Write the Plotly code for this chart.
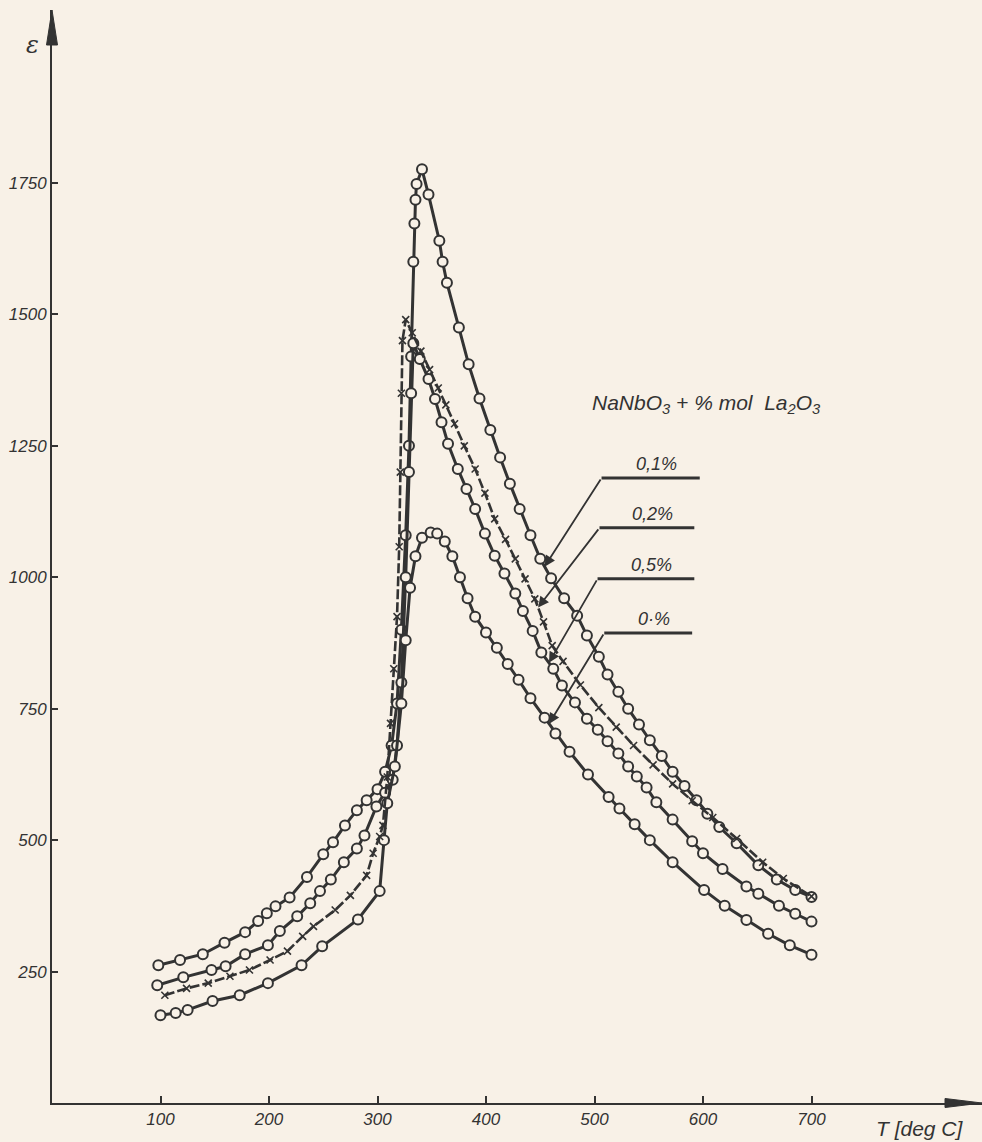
import numpy as np
import plotly.graph_objects as go

# ---------------- data ----------------
# NaNbO3 + 0.1 % mol La2O3  (open circles)
T_01 = [98, 118, 139, 159, 178, 190, 198, 206, 219, 235,
        250, 259, 270, 281, 290, 300, 307, 313, 318, 322,
        326, 329, 331, 333, 334, 335, 336, 341, 347, 357,
        360, 364, 375, 384, 394, 404, 413, 422, 431, 441,
        450, 460, 472, 484, 493, 504, 512, 522, 531, 541,
        551, 562, 572, 583, 594, 604, 615, 631, 651, 668,
        685, 700]
eps_01 = [262, 272, 283, 305, 325, 346, 361, 374, 391, 430,
          473, 496, 528, 557, 576, 597, 630, 680, 760, 900,
          1080, 1250, 1420, 1600, 1673, 1718, 1748, 1776, 1728, 1640,
          1600, 1560, 1475, 1405, 1340, 1280, 1228, 1178, 1130, 1080,
          1035, 998, 960, 927, 889, 849, 815, 782, 750, 720,
          690, 660, 630, 603, 576, 550, 525, 494, 452, 425,
          405, 392]

# 0.2 % (crosses, dashed)
T_02 = [104, 124, 144, 164, 182, 201, 217, 231, 241, 261,
        275, 290, 296, 302, 305, 309, 312, 315, 318, 320,
        321, 322, 323, 326, 332, 340, 348, 356, 363, 371,
        380, 390, 399, 408, 418, 427, 436, 445, 453, 461,
        471, 487, 504, 520, 536, 554, 572, 590, 609, 631,
        655, 674, 700]
eps_02 = [205, 218, 228, 241, 253, 272, 289, 317, 336, 367,
          395, 433, 475, 507, 528, 620, 722, 826, 925, 1058,
          1200, 1350, 1450, 1490, 1465, 1430, 1395, 1360, 1328, 1292,
          1250, 1206, 1160, 1111, 1072, 1035, 997, 959, 915, 870,
          840, 795, 752, 715, 680, 643, 607, 575, 543, 503,
          458, 427, 393]

# 0.5 % (open circles)
T_05 = [97, 121, 147, 160, 178, 199, 210, 226, 238, 247,
        257, 269, 281, 288, 299, 307, 314, 318, 322, 326,
        329, 331, 333, 339, 347, 353, 359, 365, 374, 382,
        390, 399, 408, 417, 427, 434, 443, 451, 462, 470,
        482, 493, 503, 512, 522, 531, 539, 548, 557, 572,
        590, 600, 618, 640, 651, 670, 685, 700]
eps_05 = [224, 239, 253, 260, 283, 300, 327, 355, 380, 403,
          425, 458, 484, 509, 564, 590, 615, 680, 800, 1000,
          1200, 1350, 1445, 1415, 1377, 1339, 1295, 1254, 1206, 1168,
          1130, 1083, 1041, 1007, 969, 936, 898, 857, 826, 794,
          762, 731, 710, 688, 665, 640, 621, 600, 572, 539,
          498, 475, 445, 412, 398, 375, 360, 345]

# 0 % (open circles)
T_00 = [100, 114, 125, 148, 173, 199, 230, 249, 282, 302,
        306, 309, 316, 322, 326, 330, 335, 341, 349, 355,
        362, 369, 376, 383, 390, 400, 410, 420, 430, 441,
        454, 464, 477, 494, 513, 523, 537, 551, 572, 601,
        620, 640, 660, 680, 700]
eps_00 = [167, 171, 177, 194, 205, 228, 262, 298, 349, 403,
          500, 570, 640, 760, 880, 980, 1040, 1075, 1085, 1083,
          1068, 1040, 1000, 960, 925, 895, 866, 835, 805, 770,
          733, 703, 668, 625, 582, 560, 530, 500, 458, 405,
          375, 348, 322, 300, 282]

x_ticks = [100, 200, 300, 400, 500, 600, 700]
y_ticks = [250, 500, 750, 1000, 1250, 1500, 1750]

legend_title = "NaNbO<sub>3</sub> + % mol  La<sub>2</sub>O<sub>3</sub>"
labels = ["0,1%", "0,2%", "0,5%", "0·%"]

# ---------------- styling ----------------
BG = "#f8f1e7"
INK = "#333333"
FONT = "Liberation Sans Narrow, Liberation Sans, DejaVu Sans, sans-serif"

W, H = 982, 1142
ML, MR, MT, MB = 52, 0, 10, 39
PX_PER_DEG = 1.085
PX_PER_EPS = 0.526
pw = W - ML - MR
ph = H - MT - MB

fig = go.Figure()


def circles(T, E):
    fig.add_trace(go.Scatter(
        x=T, y=E, mode="lines+markers", hoverinfo="skip",
        line=dict(color=INK, width=3),
        marker=dict(symbol="circle", size=10, color=BG,
                    line=dict(color=INK, width=2))))


circles(T_01, eps_01)
circles(T_05, eps_05)
circles(T_00, eps_00)
fig.add_trace(go.Scatter(
    x=T_02, y=eps_02, mode="lines+markers", hoverinfo="skip",
    line=dict(color=INK, width=2.6, dash="10px,3px"),
    marker=dict(symbol="x-thin", size=7, color=INK,
                line=dict(color=INK, width=1.6))))

# ---------------- leaders ----------------
def tip(T, E, t):
    T = np.asarray(T, float)
    E = np.asarray(E, float)
    i = int(np.argmax(E))
    return float(np.interp(t, T[i:], E[i:]))

# elbow (T, eps), end-of-bar T, tip T on its curve
leaders = [
    (T_01, eps_01, 506.5, 1189, 597, 454),
    (T_02, eps_02, 504.6, 1094, 592, 448),
    (T_05, eps_05, 502.8, 997, 592, 458),
    (T_00, eps_00, 509.0, 894, 590, 458),
]
shapes = []
annotations = []
for (T, E, ex, ey, xend, ttip), lab in zip(leaders, labels):
    shapes.append(dict(type="line", xref="x", yref="y", x0=ex, y0=ey,
                       x1=xend, y1=ey, line=dict(color=INK, width=3)))
    annotations.append(dict(x=ttip, y=tip(T, E, ttip), xref="x", yref="y",
                            ax=ex, ay=ey, axref="x", ayref="y", text="",
                            showarrow=True, arrowhead=2, arrowsize=1.2,
                            arrowwidth=1.8, arrowcolor=INK, standoff=0))
    annotations.append(dict(x=(ex + xend) / 2 + 5, y=ey, xref="x", yref="y",
                            text=lab, showarrow=False, yshift=14,
                            font=dict(family=FONT, size=18, color=INK,
                                      style="italic")))

annotations.append(dict(x=603, y=1330, xref="x", yref="y", text=legend_title,
                        showarrow=False,
                        font=dict(family=FONT, size=21, color=INK,
                                  style="italic")))
annotations.append(dict(x=(32 - ML) / pw, y=(H - MB - 45) / ph, xref="paper",
                        yref="paper", text="ε", showarrow=False,
                        xanchor="center", yanchor="middle",
                        font=dict(family="DejaVu Serif, serif", size=24,
                                  color=INK, style="italic")))
annotations.append(dict(x=(920 - ML) / pw, y=(H - MB - 1128) / ph,
                        xref="paper", yref="paper", text="T [deg C]",
                        showarrow=False, xanchor="center", yanchor="middle",
                        font=dict(family=FONT, size=21, color=INK,
                                  style="italic")))

# axis arrowheads
ya_base = (H - MB - 45) / ph
hw = 5.5 / pw
shapes.append(dict(type="path", xref="paper", yref="paper",
                   path=f"M {-hw},{ya_base} L 0,1 L {hw},{ya_base} Z",
                   fillcolor=INK, line=dict(color=INK, width=1)))
xa_base = (945 - ML) / pw
hh = 4.5 / ph
shapes.append(dict(type="path", xref="paper", yref="paper",
                   path=f"M {xa_base},{-hh} L 1,0 L {xa_base},{hh} Z",
                   fillcolor=INK, line=dict(color=INK, width=1)))

tickfont = dict(family=FONT, size=17, color=INK, style="italic")
fig.update_layout(
    width=W, height=H,
    margin=dict(l=ML, r=MR, t=MT, b=MB, pad=0),
    paper_bgcolor=BG, plot_bgcolor=BG, showlegend=False,
    shapes=shapes, annotations=annotations,
    xaxis=dict(range=[0, pw / PX_PER_DEG], tickvals=x_ticks,
               ticktext=[str(v) for v in x_ticks], ticks="inside",
               ticklen=7, tickwidth=2, tickcolor=INK, showline=True,
               linecolor=INK, linewidth=2, showgrid=False, zeroline=False,
               tickfont=tickfont),
    yaxis=dict(range=[0, ph / PX_PER_EPS + 1], tickvals=y_ticks,
               ticktext=[str(v) for v in y_ticks], ticks="inside",
               ticklen=6, tickwidth=2, tickcolor=INK, showline=True,
               linecolor=INK, linewidth=2, showgrid=False, zeroline=False,
               tickfont=dict(family=FONT, size=17, color=INK,
                             style="italic")),
)

fig.write_html(
    "out.html",
    config={"displayModeBar": False},
    post_script=("document.body.style.margin='0';"
                 "document.body.style.background='" + BG + "';"),
)
